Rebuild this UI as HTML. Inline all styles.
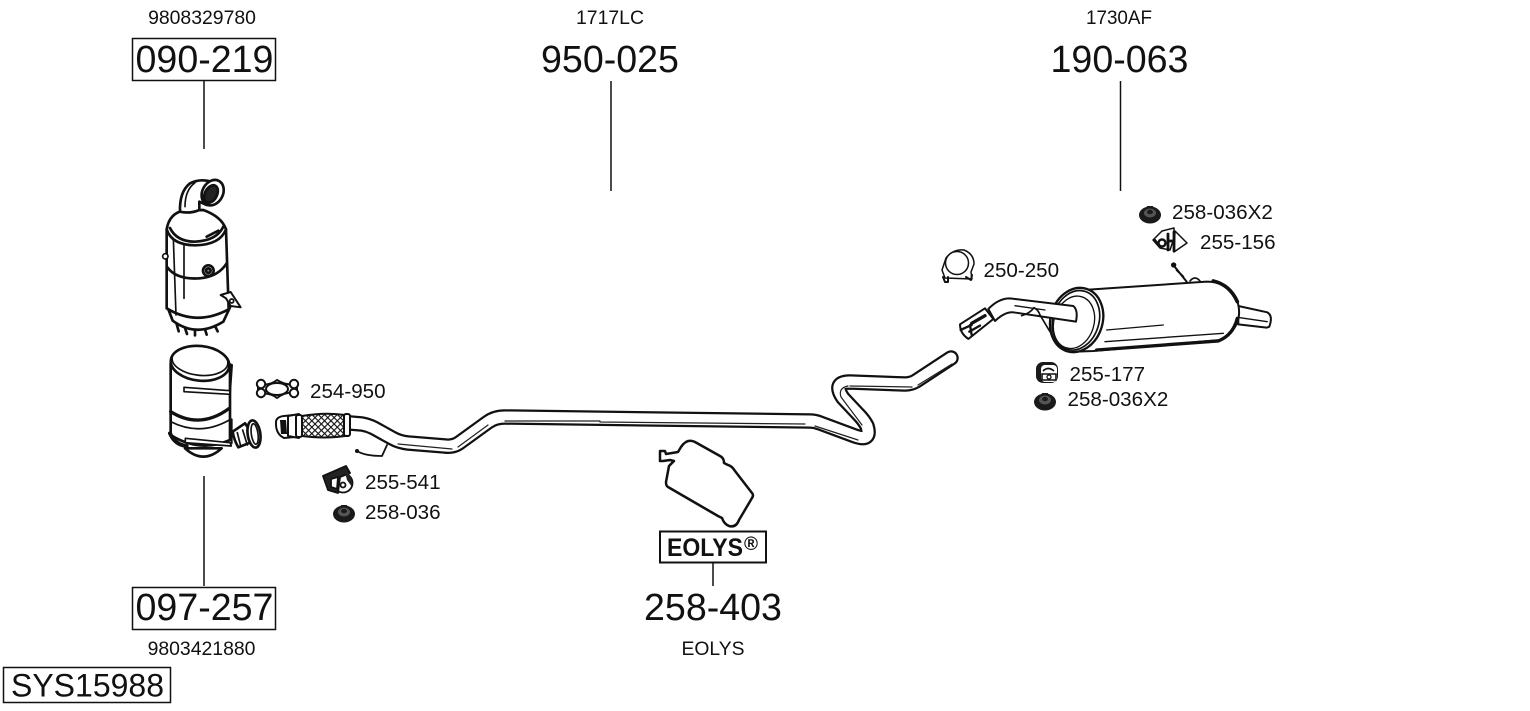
<!DOCTYPE html>
<html>
<head>
<meta charset="utf-8">
<style>
html,body{margin:0;padding:0;background:#fff;width:1530px;height:711px;overflow:hidden}
svg{display:block}
text{font-family:"Liberation Sans",sans-serif;fill:#111}
.b{font-size:37.6px}
.m{font-size:20.6px}
.s{font-size:19.4px}
.d{fill:none;stroke:#111;stroke-linecap:round;stroke-linejoin:round}
.w{fill:#fff;stroke:#111;stroke-linecap:round;stroke-linejoin:round}
.soft{filter:blur(0.35px)}
</style>
</head>
<body>
<svg width="1530" height="711" viewBox="0 0 1530 711" xmlns="http://www.w3.org/2000/svg">
<defs>
<pattern id="mesh" width="4.500" height="4.500" patternUnits="userSpaceOnUse" patternTransform="rotate(45)">
<rect width="4.500" height="4.500" fill="#fff"/>
<path d="M0 0H4.500M0 0V4.500" stroke="#111" stroke-width="2.200"/>
</pattern>
<g id="nut">
<ellipse cx="0" cy="1" rx="11" ry="8.500" fill="#1a1a1a"/>
<path d="M-11 1 L-7 -3 L-4 -4 L-3 -8 L3 -8 L4 -4 L7 -3 L11 1 Z" fill="#1a1a1a"/>
<ellipse cx="0" cy="-1" rx="6" ry="4.500" fill="#555"/>
<ellipse cx="0" cy="-2" rx="3" ry="2.200" fill="#1a1a1a"/>
</g>
</defs>
<rect width="1530" height="711" fill="#fff"/>

<text class="s" x="202" y="24" text-anchor="middle">9808329780</text>
<text class="s" x="610" y="24" text-anchor="middle" textLength="68" lengthAdjust="spacingAndGlyphs">1717LC</text>
<text class="s" x="1119" y="24" text-anchor="middle" textLength="66" lengthAdjust="spacingAndGlyphs">1730AF</text>

<rect x="132.500" y="38.500" width="143" height="42" fill="none" stroke="#111" stroke-width="1.500"/>
<text class="b" x="204.500" y="72" text-anchor="middle">090-219</text>
<text class="b" x="610" y="72" text-anchor="middle">950-025</text>
<text class="b" x="1119.500" y="72" text-anchor="middle">190-063</text>

<g stroke="#111" stroke-width="1.500">
<line x1="204" y1="81" x2="204" y2="149"/>
<line x1="611" y1="81" x2="611" y2="191"/>
<line x1="1120.500" y1="81" x2="1120.500" y2="191"/>
<line x1="204" y1="476" x2="204" y2="586"/>
<line x1="713" y1="563" x2="713" y2="586"/>
</g>

<rect x="132.500" y="587.500" width="143" height="42" fill="none" stroke="#111" stroke-width="1.500"/>
<text class="b" x="204.500" y="620" text-anchor="middle">097-257</text>
<text class="b" x="713" y="620" text-anchor="middle">258-403</text>
<text class="s" x="201.500" y="655" text-anchor="middle">9803421880</text>
<text class="s" x="713" y="655" text-anchor="middle" textLength="63" lengthAdjust="spacingAndGlyphs">EOLYS</text>

<rect x="3.500" y="667.500" width="167" height="35" fill="none" stroke="#111" stroke-width="1.500"/>
<text x="87.500" y="696.500" text-anchor="middle" font-size="32">SYS15988</text>

<rect x="660" y="531.500" width="106" height="31" fill="none" stroke="#111" stroke-width="2"/>
<text x="667" y="556" font-size="25" font-weight="bold" textLength="76" lengthAdjust="spacingAndGlyphs">EOLYS</text>
<text x="744" y="550" font-size="19" font-weight="bold">®</text>

<text class="m" x="310" y="398">254-950</text>
<text class="m" x="365" y="489">255-541</text>
<text class="m" x="365" y="519">258-036</text>
<text class="m" x="983.500" y="277">250-250</text>
<text class="m" x="1172" y="219">258-036X2</text>
<text class="m" x="1200" y="249">255-156</text>
<text class="m" x="1069.500" y="381">255-177</text>
<text class="m" x="1067.500" y="406">258-036X2</text>

<g class="soft">
<!-- upper DPF -->
<g transform="translate(140,170) scale(0.3333)">
<g class="d" stroke-width="8">
<path class="w" d="M82 410 L98 452 Q170 505 250 455 L270 412 Q170 470 82 410Z"/>
<path d="M110 462l6 22M135 474l6 18M165 480v16M195 478l5 16M225 468l8 16"/>
<path class="w" d="M80 178 L80 415 Q170 470 266 418 L258 178 Z"/>
<path stroke-width="5" d="M100 205 L108 435M132 222 L132 385"/>
<path d="M82 292 Q110 330 180 325 Q235 320 260 280"/>
<path class="w" d="M80 178 Q88 130 130 122 L190 120 Q245 140 258 178 Q240 225 165 226 Q95 225 80 178Z"/>
<path d="M90 174 Q110 215 165 215 Q230 212 250 170"/>
<path d="M200 200 L235 182"/>
<path class="w" d="M120 125 Q118 65 150 40 Q180 25 215 35 L240 60 L200 105 L178 95 L178 120 Q150 132 120 125Z"/>
<path stroke-width="5" d="M135 110 Q135 60 165 38"/>
<ellipse class="w" cx="218" cy="68" rx="31" ry="40" transform="rotate(28 218 68)"/>
<ellipse cx="213" cy="72" rx="18" ry="28" fill="#222" transform="rotate(28 213 72)"/>
<circle class="w" cx="205" cy="302" r="16"/>
<circle cx="205" cy="302" r="7" fill="#888"/>
<circle class="w" cx="76" cy="259" r="8" stroke-width="5"/>
<path class="w" stroke-width="6" d="M242 375 L272 366 L302 412 L272 408 L258 385 Z"/>
<circle cx="275" cy="393" r="6" stroke-width="5"/>
</g>
</g>

<!-- lower DPF -->
<g transform="translate(150,340) scale(0.3333)">
<g class="d" stroke-width="8">
<path class="w" d="M105 325 Q160 375 215 325Z"/>
<path class="w" d="M62 70 L62 285 Q150 340 240 300 L240 75Z"/>
<ellipse class="w" cx="150" cy="70" rx="88" ry="52" transform="rotate(6 150 70)"/>
<ellipse cx="150" cy="62" rx="84" ry="44" stroke-width="5" transform="rotate(6 150 62)"/>
<path stroke-width="10" d="M62 215 Q150 270 238 205"/>
<path stroke-width="5" d="M62 245 Q150 290 238 240"/>
<path stroke-width="12" d="M60 280 Q75 315 110 318"/>
<path class="w" stroke-width="5" d="M102 142 L240 152 L240 163 L102 155Z"/>
<path stroke-width="6" d="M238 72 L246 75 L240 160"/>
<path class="w" stroke-width="5" d="M106 295 L240 308 L244 318 L106 308Z"/>
<path stroke-width="6" d="M245 238 L245 310"/>
<path class="w" d="M248 275 L285 250 L320 300 L265 322 Q252 300 248 275Z"/>
<path stroke-width="5" d="M262 278 L272 318M278 270 L292 315"/>
<ellipse class="w" cx="312" cy="282" rx="19" ry="41" transform="rotate(-8 312 282)"/>
<ellipse cx="314" cy="282" rx="10" ry="31" stroke-width="5" transform="rotate(-8 314 282)"/>
</g>
</g>

<!-- clamp 254-950 -->
<g class="d" stroke-width="2">
<path class="w" d="M258 384 Q270 386 277 380 Q286 386 297 384 L297 393 Q286 391 277 398 Q270 392 258 394Z"/>
<ellipse class="w" cx="277" cy="389" rx="11" ry="6"/>
<circle class="w" cx="261" cy="384" r="4.200"/>
<circle class="w" cx="261" cy="393" r="4.200"/>
<circle class="w" cx="294" cy="384" r="4.200"/>
<circle class="w" cx="294" cy="393" r="4.200"/>
</g>

<!-- exhaust pipe -->
<g fill="none" stroke-linecap="round" stroke-linejoin="round">
<path id="p" stroke="#111" stroke-width="15.500" d="M350 423 L362 424 Q368 425 374 428 L392 438 Q399 442 408 443 L445 446 Q453 447 459 443 L488 422 Q495 417 505 417 L810 421 Q815 421 820 423 L855 436 Q872 442 867 426 Q864 420 858 414 L843 398 Q832 382 850 382 L905 384 Q911 384 916 381 L951 358"/>
<path stroke="#fff" stroke-width="11" d="M350 423 L362 424 Q368 425 374 428 L392 438 Q399 442 408 443 L445 446 Q453 447 459 443 L488 422 Q495 417 505 417 L810 421 Q815 421 820 423 L855 436 Q872 442 867 426 Q864 420 858 414 L843 398 Q832 382 850 382 L905 384 Q911 384 916 381 L951 358"/>
<path stroke="#222" stroke-width="1.200" d="M398 444 L452 449 M458 447 L488 425 M505 421 L600 421 M600 422 L805 424 M815 426 L858 440 M862 425 L841 397 Q838 388 848 386 M850 386 L912 387 M918 385 L952 364"/>
</g>

<path class="d" stroke-width="1.800" d="M357 451 Q365 456 382 456 L387 445"/>
<circle cx="357" cy="451" r="2" fill="#111"/>

<!-- flex section -->
<g class="d" stroke-width="2">
<path class="w" d="M276 424 Q275 417 284 416 L294 415 L295 437 L284 438 Q276 434 276 424Z"/>
<path fill="#111" stroke="none" d="M280 420 L286 420 L287 434 L281 434Z"/>
<path class="w" d="M288 416 L299 414 L299 438 L288 436Z"/>
<rect x="296" y="415" width="6" height="22" rx="2" class="w"/>
<path fill="url(#mesh)" stroke="#111" d="M302 416 Q325 412 345 415 L345 436 Q325 439 302 436Z"/>
<rect x="344" y="414" width="6" height="22" rx="2" class="w"/>
</g>

<!-- 255-541 -->
<g class="d" stroke-width="1.800">
<circle class="w" cx="343" cy="483" r="9.500"/>
<path fill="#222" stroke="#111" d="M323 476 L346 466 L350 473 L340 477 L338 493 L328 490Z"/>
<path class="w" d="M331 479 L338 477 L337 489 L331 487Z"/>
<circle cx="343" cy="485" r="2.500" fill="#fff"/>
<path fill="#222" stroke="none" d="M344 469 Q353 475 352 487 L347 480Z"/>
</g>

<use href="#nut" x="344" y="513"/>
<use href="#nut" x="1150" y="214"/>
<use href="#nut" x="1045" y="401"/>

<!-- tank -->
<path class="d" stroke-width="2.500" d="M681 447 Q687 438 695 442 L720 456 Q724 458 724 463 L728 465 Q732 466 735 471 L752 493 Q754 495 752 498 L739 520 Q736 528 729 526 Q724 524 722 518 L718 516 L668 487 Q666 486 666 482 L669 466 L674 461 L670 460 L663 461 L660 461 L660 451 L665 451 L666 454 L678 452Z"/>

<!-- 250-250 -->
<g class="d" stroke-width="1.500">
<path class="w" d="M942 270 L946 258 Q953 249 964 250 Q974 254 974 264 L971 272 L972 279 L945 278Z"/>
<circle class="w" cx="957" cy="263" r="11.500"/>
<path stroke-width="2" d="M943 277 L945 282 L948 282 L948 277 M966 277 L971 280 L972 275"/>
</g>

<!-- 255-156 -->
<g class="d" stroke-width="1.500">
<path class="w" fill="#ddd" d="M1175 231 L1187 243 L1174 252 Z"/>
<path class="w" d="M1153 240 L1162 231 L1174 228 L1174 238 L1170 250 L1160 248 Z"/>
<path stroke-width="2.800" d="M1168 234 L1168 250 M1174 232 L1174 251 M1168 241 L1174 241"/>
<circle cx="1162" cy="243" r="3.500" fill="#fff" stroke-width="2.400"/>
<path stroke-width="2.200" d="M1155 240 L1160 247"/>
</g>

<!-- 255-177 -->
<g>
<rect x="1036" y="362" width="22" height="21" rx="7" fill="#1a1a1a"/>
<rect x="1041" y="365" width="16" height="17" rx="4" fill="#fff"/>
<path fill="none" stroke="#111" stroke-width="1.600" d="M1043 371 Q1048 366 1054 371 M1042 374 L1056 374 L1056 380 L1042 380Z"/>
<circle cx="1049" cy="377" r="2" fill="none" stroke="#111" stroke-width="1.300"/>
</g>

<!-- muffler -->
<g transform="translate(930,195) scale(0.3333)">
<g class="d" stroke-width="6">
<path class="w" d="M925 333 L1012 352 Q1030 362 1018 395 L1010 398 L925 388Z"/>
<path d="M930 368 L1012 380" stroke-width="4"/>
<path class="w" d="M460 285 L830 260 Q895 260 922 318 Q945 395 870 435 L490 468 L440 470 Z"/>
<path stroke-width="11" d="M850 258 Q900 270 922 320"/>
<path stroke-width="10" d="M922 370 Q910 420 865 438 L500 465"/>
<path stroke-width="4" d="M530 405 L700 390 M525 440 L880 415"/>
<path stroke-width="6" d="M730 210 L770 260 M760 245 L740 225"/>
<circle cx="731" cy="210" r="5" fill="#111"/>
<path class="w" stroke-width="5" d="M780 258 Q795 240 810 258"/>
<ellipse class="w" cx="440" cy="375" rx="78" ry="98" stroke-width="7" transform="rotate(17 440 375)"/>
<ellipse cx="438" cy="376" rx="69" ry="91" stroke-width="5" transform="rotate(17 438 376)"/>
<ellipse class="w" cx="432" cy="382" rx="60" ry="80" stroke-width="4" transform="rotate(17 432 382)"/>
<path class="w" stroke-width="6" d="M175 342 Q205 310 240 310 L430 333 Q445 345 438 380 L250 352 Q225 350 195 378Z"/>
<path stroke-width="4" d="M255 332 L345 345"/>
<path stroke-width="5" d="M275 362 Q300 355 312 338 Q325 345 330 360 L360 410"/>
<path class="w" stroke-width="6" d="M90 388 L165 340 L190 372 L115 432 Q90 415 90 388Z"/>
<path stroke-width="10" d="M125 385 L165 362"/>
<path stroke-width="7" d="M92 405 L125 390 M118 410 L150 392 M120 390 L125 420"/>
</g>
</g>
</g>
</svg>
</body>
</html>
